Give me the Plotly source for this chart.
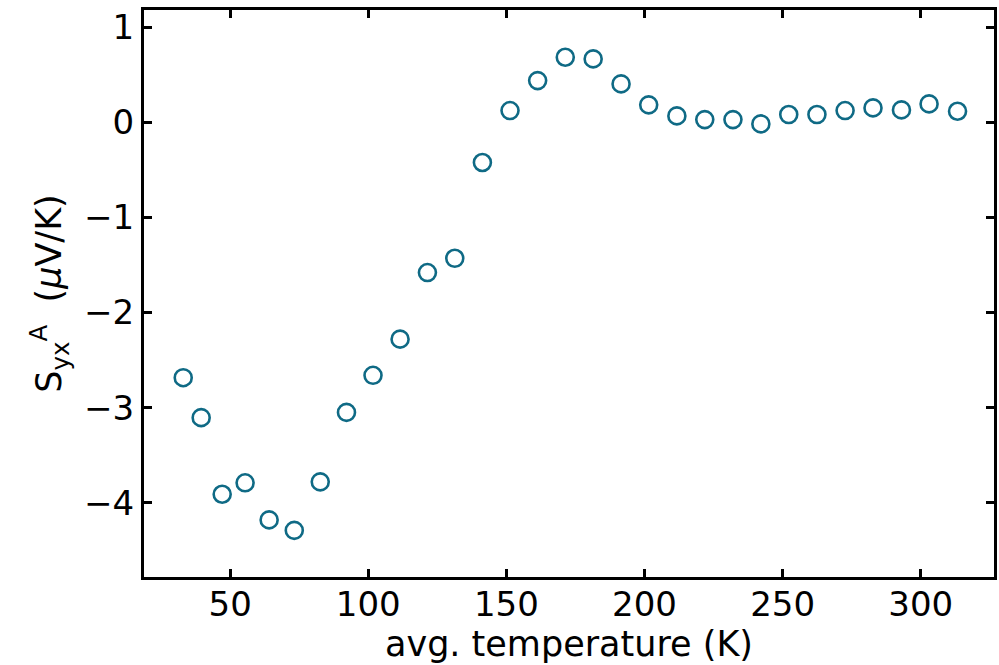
import plotly.graph_objects as go

temperature = [33.0, 39.5, 47.1, 55.4, 64.1, 73.2, 82.6, 92.1, 101.7, 111.5,
               121.4, 131.3, 141.3, 151.3, 161.3, 171.3, 181.4, 191.5, 201.5, 211.7,
               221.8, 232.0, 242.1, 252.2, 262.4, 272.6, 282.7, 293.0, 303.0, 313.3]
s_yx = [-2.685, -3.105, -3.91, -3.79, -4.18, -4.29, -3.78, -3.05, -2.66, -2.28,
        -1.58, -1.43, -0.423, 0.123, 0.438, 0.683, 0.666, 0.403, 0.183, 0.067,
        0.028, 0.028, -0.017, 0.081, 0.081, 0.123, 0.151, 0.130, 0.193, 0.116]

x_ticks = [50, 100, 150, 200, 250, 300]
y_ticks = [-4, -3, -2, -1, 0, 1]
y_tick_labels = ["\u22124", "\u22123", "\u22122", "\u22121", "0", "1"]

color = "#0f6a85"
font = "DejaVu Sans"

fig = go.Figure()
fig.add_trace(go.Scatter(
    x=temperature, y=s_yx, mode="markers",
    marker=dict(symbol="circle-open", size=17, color=color, line=dict(width=2.6, color=color)),
    showlegend=False,
))

axis_common = dict(
    showline=True, linecolor="black", linewidth=3, mirror="ticks",
    ticks="inside", ticklen=8, tickwidth=2.5, tickcolor="black",
    showgrid=False, zeroline=False,
    tickfont=dict(family=font, size=34, color="black"),
)

fig.update_layout(
    width=999, height=665,
    margin=dict(l=144, r=2, t=10, b=88),
    plot_bgcolor="white", paper_bgcolor="white",
    font=dict(family=font, color="black"),
    xaxis=dict(range=[18.8, 326.5], tickvals=x_ticks,
               title=dict(text="avg. temperature (K)", font=dict(family=font, size=35), standoff=4),
               **axis_common),
    yaxis=dict(range=[-4.78, 1.18], tickvals=y_ticks, ticktext=y_tick_labels,
               title=dict(text="S<sub>yx</sub><sup>A</sup>  (<i>\u03bc</i>V/K)", font=dict(family=font, size=35), standoff=12),
               **axis_common),
)

try:
    fig.update_xaxes(ticklabelstandoff=-5)
except Exception:
    pass

fig.write_html("out.html")
